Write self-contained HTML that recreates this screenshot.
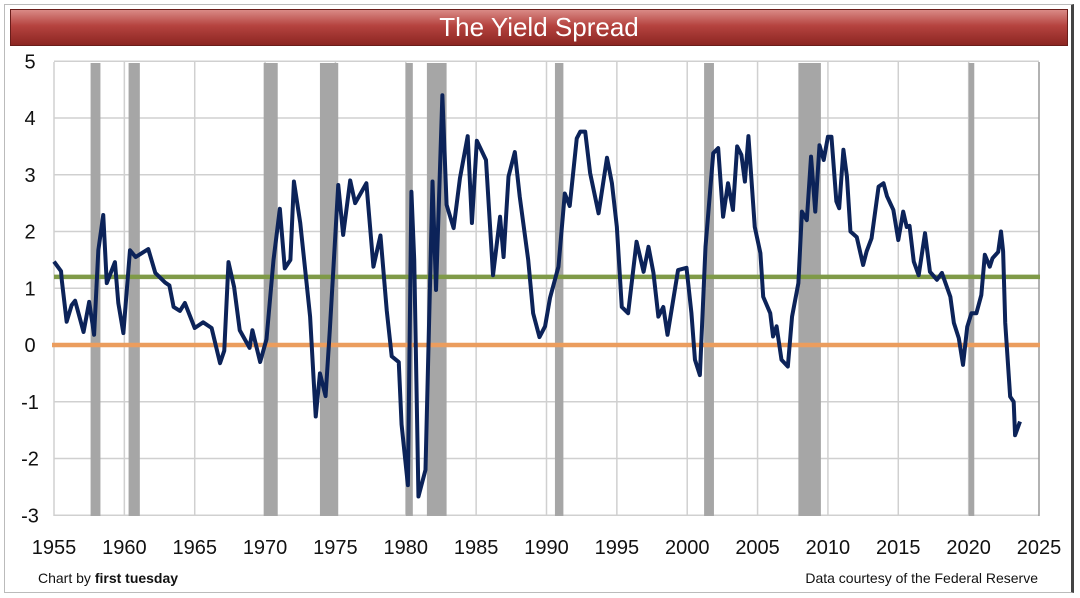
<!DOCTYPE html>
<html><head><meta charset="utf-8"><style>
body{margin:0;background:#fff;width:1080px;height:598px;overflow:hidden;font-family:"Liberation Sans",sans-serif}
#frame{position:absolute;left:4px;top:4px;width:1070px;height:589px;border:1px solid #bbb;border-right:3px solid #444;box-sizing:border-box}
#title{position:absolute;left:10px;top:9px;width:1058px;height:37px;background:linear-gradient(#d98a86,#b5433f 45%,#8c2622);border:1px solid #6a1d1a;box-sizing:border-box;color:#fff;font-size:26px;text-align:center;line-height:35px}
</style></head><body>
<div id="frame"></div>
<div id="title">The Yield Spread</div>
<svg id="chart" width="1080" height="598" style="position:absolute;left:0;top:0"></svg>
<script>
const years=[1955.0,1955.5,1955.55,1955.9,1956.25,1956.5,1957.1,1957.5,1957.85,1958.15,1958.5,1958.75,1959.33,1959.57,1959.93,1960.4,1960.8,1961.7,1962.2,1962.9,1963.2,1963.5,1963.95,1964.3,1965.0,1965.6,1966.2,1966.8,1967.1,1967.4,1967.8,1968.2,1968.9,1969.1,1969.65,1970.1,1970.6,1971.05,1971.4,1971.8,1972.05,1972.5,1972.95,1973.2,1973.6,1973.9,1974.3,1974.6,1975.2,1975.55,1976.05,1976.4,1977.2,1977.7,1978.2,1978.65,1979.0,1979.5,1979.7,1980.15,1980.4,1980.6,1980.9,1981.4,1981.9,1982.15,1982.6,1982.9,1983.4,1983.85,1984.4,1984.7,1985.05,1985.7,1986.2,1986.7,1986.95,1987.3,1987.75,1988.1,1988.7,1989.05,1989.5,1989.9,1990.25,1990.85,1991.3,1991.65,1992.15,1992.4,1992.75,1993.1,1993.7,1994.3,1994.65,1995.0,1995.35,1995.8,1996.4,1996.9,1997.25,1997.6,1997.95,1998.3,1998.6,1999.35,1999.95,2000.3,2000.55,2000.9,2001.3,2001.85,2002.2,2002.55,2002.9,2003.25,2003.55,2003.85,2004.1,2004.35,2004.6,2004.8,2005.2,2005.4,2005.9,2006.1,2006.35,2006.7,2007.15,2007.45,2007.9,2008.15,2008.5,2008.8,2009.1,2009.4,2009.7,2010.0,2010.25,2010.6,2010.8,2011.1,2011.35,2011.6,2012.05,2012.5,2012.75,2013.1,2013.6,2013.95,2014.2,2014.65,2015.0,2015.35,2015.6,2015.8,2016.1,2016.45,2016.9,2017.25,2017.75,2018.1,2018.7,2018.95,2019.3,2019.6,2019.9,2020.2,2020.55,2020.9,2021.15,2021.5,2021.7,2022.1,2022.3,2022.45,2022.6,2022.95,2023.2,2023.3,2023.65];
const spread=[1.47,1.3,1.15,0.41,0.7,0.78,0.23,0.76,0.18,1.67,2.29,1.09,1.46,0.74,0.21,1.67,1.55,1.69,1.27,1.1,1.05,0.67,0.6,0.74,0.3,0.4,0.3,-0.32,-0.1,1.46,1.02,0.26,-0.05,0.26,-0.3,0.1,1.5,2.4,1.35,1.5,2.88,2.15,1.09,0.5,-1.26,-0.5,-0.9,0.26,2.82,1.94,2.9,2.5,2.85,1.38,1.93,0.6,-0.2,-0.3,-1.4,-2.47,2.7,1.5,-2.67,-2.2,2.88,0.97,4.4,2.47,2.06,2.94,3.68,2.15,3.6,3.26,1.23,2.26,1.55,2.97,3.4,2.61,1.5,0.56,0.14,0.33,0.83,1.38,2.67,2.45,3.64,3.76,3.76,3.03,2.32,3.3,2.85,2.08,0.67,0.56,1.82,1.29,1.73,1.27,0.5,0.67,0.18,1.32,1.36,0.56,-0.26,-0.53,1.73,3.38,3.47,2.26,2.85,2.38,3.5,3.35,2.88,3.68,2.79,2.08,1.62,0.85,0.56,0.15,0.33,-0.26,-0.38,0.5,1.09,2.35,2.2,3.32,2.35,3.52,3.26,3.67,3.67,2.53,2.41,3.44,2.97,2.0,1.9,1.41,1.65,1.88,2.79,2.85,2.62,2.38,1.85,2.35,2.08,2.1,1.47,1.23,1.97,1.29,1.15,1.27,0.85,0.39,0.12,-0.35,0.32,0.56,0.56,0.88,1.59,1.38,1.53,1.64,2.0,1.65,0.39,-0.91,-1.0,-1.59,-1.35];
const recStart=[1957.6,1960.3,1969.9,1973.9,1980.0,1981.5,1990.6,2001.2,2007.9,2020.0];
const recEnd=[1958.3,1961.1,1970.9,1975.2,1980.5,1982.9,1991.2,2001.9,2009.5,2020.4];
const xTicks=[1955,1960,1965,1970,1975,1980,1985,1990,1995,2000,2005,2010,2015,2020,2025];
const yTicks=[5,4,3,2,1,0,-1,-2,-3];
const avgLine=[1.2];
const zeroLine=[0];
const X=v=>54+(v-1955)*(985/70);
const Y=v=>345-v*56.75;
const svg=document.getElementById('chart');
const NS='http://www.w3.org/2000/svg';
function mk(t,a){const e=document.createElementNS(NS,t);for(const k in a)e.setAttribute(k,a[k]);svg.appendChild(e);return e;}
yTicks.forEach(v=>{
 const l=mk('line',{x1:54,x2:1039,y1:Y(v),y2:Y(v),stroke:'#d0d0d0','stroke-width':1.5});
 
 
 const t=mk('text',{x:30,y:Y(v)+7,'text-anchor':'middle','font-size':20,fill:'#111','font-family':'Liberation Sans, sans-serif'});
 t.textContent=v;
 
 
});
xTicks.forEach(v=>{
 const l=mk('line',{x1:X(v),x2:X(v),y1:62,y2:516,stroke:v===2025?'#999':'#d0d0d0','stroke-width':1.5});
 
 
 const t=mk('text',{x:X(v),y:554,'text-anchor':'middle','font-size':20,fill:'#111','font-family':'Liberation Sans, sans-serif'});
 t.textContent=v;
 
 
});
recStart.forEach((s,i)=>{
 const r=mk('rect',{x:X(s),y:63,width:X(recEnd[i])-X(s),height:453,fill:'#a6a6a6'});
 
 
});
const g=mk('line',{x1:X(1955),x2:1040,y1:Y(avgLine[0]),y2:Y(avgLine[0]),stroke:'#7f9a48','stroke-width':4.5});


const o=mk('line',{x1:52,x2:1040,y1:Y(zeroLine[0]),y2:Y(zeroLine[0]),stroke:'#eb9d5e','stroke-width':4.5});


const p=mk('polyline',{points:years.map((y,i)=>X(y)+','+Y(spread[i])).join(' '),fill:'none',stroke:'#0c2359','stroke-width':4,'stroke-linejoin':'round'});


const f1=mk('text',{x:38,y:583,'font-size':14,fill:'#111','font-family':'Liberation Sans, sans-serif'});
f1.innerHTML='Chart by <tspan font-weight="bold">first tuesday</tspan>';


const f2=mk('text',{x:1038,y:583,'text-anchor':'end','font-size':14,fill:'#111','font-family':'Liberation Sans, sans-serif'});
f2.textContent='Data courtesy of the Federal Reserve';


</script>
</body></html>
